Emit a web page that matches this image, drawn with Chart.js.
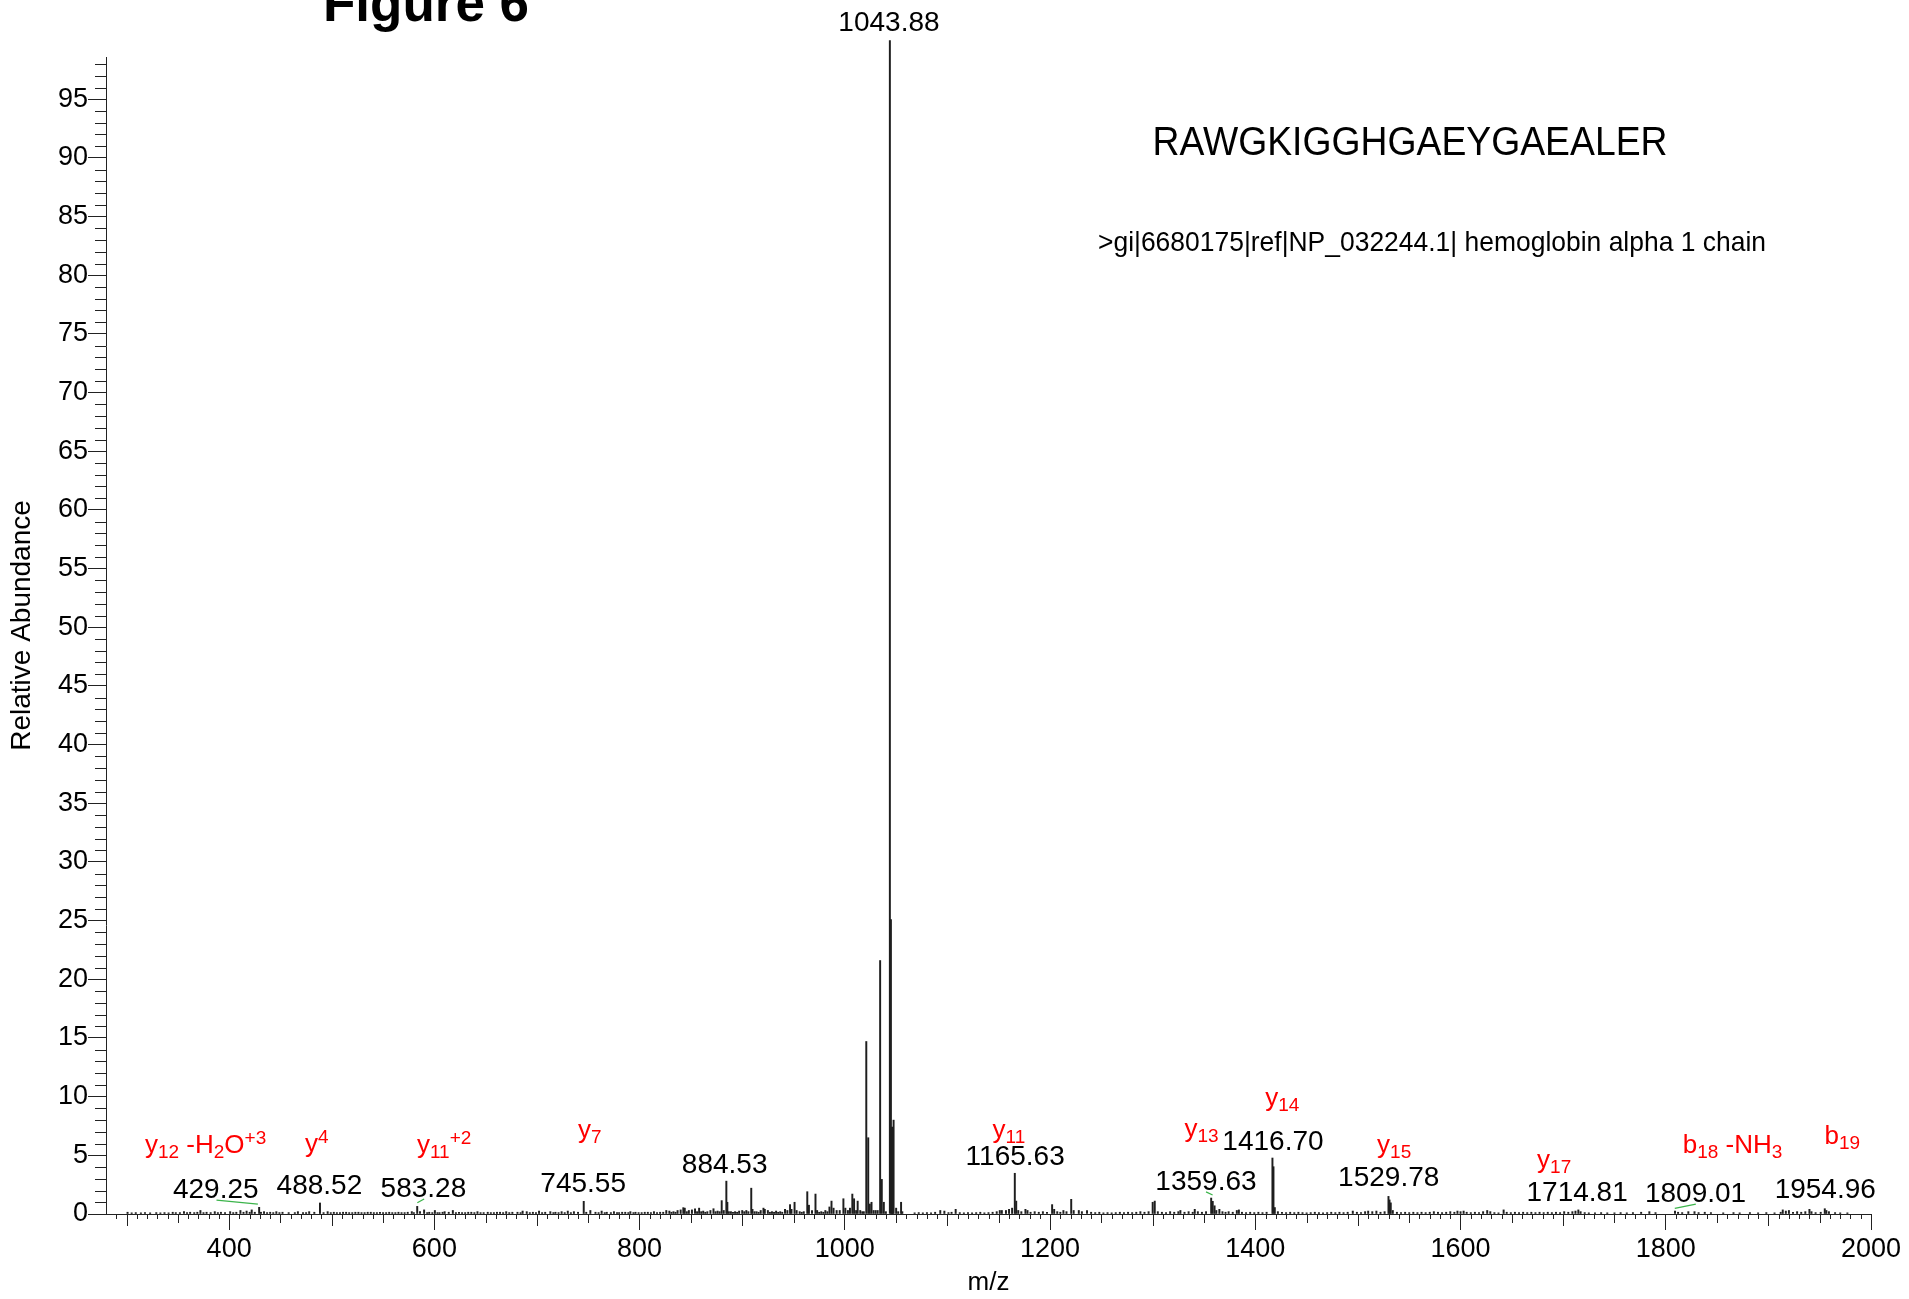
<!DOCTYPE html>
<html>
<head>
<meta charset="utf-8">
<script src="https://cdn.jsdelivr.net/npm/chart.js@4.4.1/dist/chart.umd.min.js"></script>
<style>
  html, body { margin: 0; padding: 0; background: #fff; }
  #wrap { width: 1909px; height: 1299px; position: relative; }
</style>
</head>
<body>
<div id="wrap"><canvas id="spectrum"></canvas></div>
<script>
// axis ticks
const xTickLabels = [400, 600, 800, 1000, 1200, 1400, 1600, 1800, 2000];
const yTickLabels = [0, 5, 10, 15, 20, 25, 30, 35, 40, 45, 50, 55, 60, 65, 70, 75, 80, 85, 90, 95];

// peaks as [m/z, relative abundance %]
const lowMassPeaks = [
  [301,0.15],[305,0.1],[309,0.12],[314,0.1],[318,0.12],[323,0.1],[329,0.12],[333,0.1],[337,0.12],[341,0.1],
  [345,0.15],[348,0.12],[352,0.12],[356,0.2],[359,0.12],[362,0.15],[366,0.12],[369,0.15],[372,0.3],[375,0.12],
  [378,0.15],[382,0.12],[386,0.2],[389,0.12],[392,0.15],[396,0.12],[401,0.2],[404,0.12],[407,0.15],[411,0.3],
  [414,0.15],[417,0.25],[420,0.15],[422,0.35],[425,0.15],[429.25,0.57],[431,0.15],[434,0.2],[437,0.12],[440,0.15],
  [443,0.12],[446,0.2],[449,0.12],[452,0.15],[458,0.12],[464,0.12],[467,0.2],[472,0.12],[475,0.12],[478,0.2],
  [483,0.15],[488.52,0.94],[492,0.12],[496,0.2],[499,0.12],[502,0.15],[505,0.12],[508,0.12],[511,0.15],[514,0.15],
  [517,0.12],[520,0.12],[523,0.15],[526,0.15],[529,0.12],[532,0.12],[535,0.15],[538,0.15],[541,0.12],[544,0.12],
  [547,0.15],[550,0.12],[553,0.12],[556,0.15],[559,0.12],[562,0.12],[565,0.15],[568,0.12],[571,0.12],[574,0.15],
  [578,0.2],[580,0.12],[583.28,0.65],[586,0.2],[590,0.35],[593,0.12],[595,0.15],[598,0.12],[600.5,0.3],[603,0.12],
  [605,0.12],[608,0.15],[610,0.2],[614,0.15],[618,0.3],[621,0.12],[624,0.15],[627,0.12],[630,0.12],[633,0.15],
  [636,0.15],[639,0.12],[642,0.2],[645,0.12],[648,0.12],[652,0.15],[655,0.12],[658,0.12],[661,0.15],[664,0.15],
  [667,0.12],[670,0.2],[673,0.12],[676,0.15],[681,0.15],[684,0.12],[686,0.25],[690,0.2],[693,0.12],[696,0.15],
  [699,0.12],[702,0.25],[705,0.12],[708,0.15],[713,0.2],[716,0.12],[718,0.15],[721,0.12],[724,0.2],[727,0.12],
  [730,0.25],[733,0.12],[736,0.2],[740,0.15],[745.55,1.08],[748,0.15],[752,0.3],[757,0.15],[760,0.12],[763,0.25],
  [766,0.12],[768,0.15],[772,0.12],[775,0.2],[778,0.12],[780,0.12],[783,0.15],[786,0.15],[789,0.12],[791,0.2],
  [794,0.12],[796,0.15],[799,0.12],[802,0.12],[805,0.15],[808,0.15],[811,0.12],[814,0.2],[817,0.12],[820,0.15],
  [823,0.15],[826,0.3],[829,0.25],[831,0.15],[833,0.2],[835,0.15],[837,0.3],[840,0.35],[842.6,0.54],[844,0.5],
  [846,0.2],[848,0.3],[851,0.35],[854,0.45],[856,0.2],[858,0.5]
];

const clusterPeaks = [
  [860,0.2],[862,0.25],[864,0.15],[866,0.2],[869,0.3],[872,0.45],[874,0.2],[876,0.25],[878,0.2],[880,1.14],
  [882,0.3],[884.53,2.8],[885.5,1.0],[887,0.2],[889,0.2],[891,0.15],[893,0.2],[895,0.15],[897,0.25],[900,0.3],
  [902,0.2],[904,0.3],[906,0.2],[908.8,2.2],[910,0.4],[912,0.2],[914,0.2],[916,0.15],[918,0.3],[920.7,0.5],
  [922,0.4],[925,0.3],[927,0.15],[929,0.2],[931,0.15],[933,0.25],[935,0.15],[937,0.2],[939,0.15],[941.7,0.4],
  [944,0.3],[946.6,0.8],[948,0.4],[951,1.0],[953,0.3],[956,0.2],[958,0.15],[960,0.2],[963.4,1.9],[965,0.75],
  [968,0.3],[971.4,1.7],[973,0.3],[975,0.15],[977,0.2],[979,0.15],[981,0.3],[983,0.2],[985,0.6],[987,1.1],
  [989,0.5],[992,0.3],[995,0.3],[998.6,1.3],[1000.5,0.5],[1003,0.3],[1005,0.5],[1007.3,1.7],[1009,1.3],[1011,0.3],
  [1012.5,1.1],[1015,0.3],[1017,0.2],[1018.5,0.2],[1020.9,14.7],[1022.8,6.5],[1024.3,0.85],[1026,1.0],[1028,0.3],[1030,0.3],
  [1032,0.3],[1034.4,21.6],[1036,2.95],[1038,1.0],[1040,0.2],[1043.88,100],[1044.9,25.1],[1045.9,7.4],[1046.5,7.4],[1047.5,8.0],
  [1050,0.5],[1052,0.2],[1054.8,1.0],[1056,0.2]
];

const highMassPeaks = [
  [1068,0.1],[1072,0.12],[1076,0.1],[1080,0.12],[1084,0.1],[1088,0.15],[1093,0.3],[1097,0.25],[1101,0.12],[1104,0.15],
  [1108,0.4],[1112,0.12],[1116,0.1],[1120,0.12],[1124,0.1],[1128,0.12],[1132,0.15],[1136,0.1],[1140,0.12],[1144,0.15],
  [1148,0.2],[1151,0.3],[1153,0.3],[1157,0.3],[1160,0.4],[1163,0.5],[1165.63,3.47],[1167,1.1],[1169,0.3],[1172,0.2],
  [1176,0.4],[1178,0.3],[1181,0.15],[1185,0.2],[1189,0.15],[1193,0.2],[1197,0.15],[1202,0.8],[1204,0.4],[1207,0.2],
  [1210,0.15],[1213,0.3],[1216,0.2],[1220.6,1.25],[1223,0.3],[1228,0.3],[1231,0.2],[1236,0.3],[1240,0.15],[1244,0.12],
  [1248,0.15],[1252,0.1],[1256,0.12],[1260,0.1],[1264,0.12],[1268,0.15],[1272,0.12],[1276,0.15],[1280,0.12],[1284,0.15],
  [1288,0.2],[1292,0.15],[1296,0.2],[1300,1.0],[1302,1.1],[1305,0.2],[1309,0.15],[1313,0.12],[1317,0.2],[1321,0.15],
  [1325,0.2],[1327,0.3],[1331,0.15],[1335,0.2],[1339,0.15],[1341,0.4],[1344,0.2],[1348,0.15],[1352,0.2],[1357,1.36],
  [1358.5,1.08],[1360.3,0.7],[1362,0.3],[1365,0.4],[1368,0.2],[1371,0.15],[1374,0.2],[1378,0.15],[1382,0.3],[1384,0.35],
  [1387,0.15],[1391,0.12],[1395,0.15],[1399,0.12],[1403,0.15],[1407,0.12],[1411,0.15],[1416.7,4.77],[1417.7,4.03],[1419,0.55],
  [1422,0.2],[1426,0.15],[1430,0.12],[1434,0.15],[1438,0.12],[1442,0.15],[1446,0.12],[1450,0.1],[1454,0.12],[1458,0.15],
  [1462,0.12],[1466,0.1],[1470,0.12],[1474,0.15],[1478,0.12],[1482,0.15],[1486,0.12],[1490,0.15],[1495,0.25],[1499,0.15],
  [1503,0.12],[1507,0.2],[1510,0.25],[1514,0.2],[1518,0.25],[1522,0.15],[1526,0.2],[1529.78,1.5],[1530.8,1.2],[1532,0.95],
  [1534,0.3],[1538,0.15],[1542,0.12],[1546,0.15],[1550,0.12],[1554,0.15],[1558,0.12],[1562,0.15],[1566,0.12],[1570,0.15],
  [1574,0.2],[1578,0.15],[1582,0.12],[1586,0.15],[1590,0.2],[1594,0.15],[1597,0.25],[1600,0.2],[1603,0.25],[1606,0.15],
  [1610,0.12],[1614,0.15],[1618,0.12],[1622,0.2],[1626,0.3],[1629,0.2],[1633,0.12],[1637,0.1],[1642,0.35],[1645,0.15],
  [1649,0.12],[1653,0.15],[1657,0.12],[1661,0.15],[1665,0.12],[1669,0.15],[1673,0.12],[1677,0.15],[1681,0.12],[1685,0.15],
  [1689,0.12],[1693,0.15],[1697,0.12],[1701,0.2],[1705,0.15],[1709,0.2],[1712,0.25],[1714.81,0.35],[1717,0.2],[1721,0.12],
  [1725,0.1],[1731,0.1],[1737,0.12],[1743,0.1],[1750,0.1],[1756,0.12],[1762,0.1],[1768,0.12],[1776,0.15],[1784,0.2],
  [1790,0.12],[1809,0.25],[1812,0.15],[1816,0.12],[1822,0.2],[1828,0.2],[1832,0.12],[1838,0.15],[1844,0.12],[1856,0.1],
  [1866,0.12],[1872,0.1],[1882,0.12],[1890,0.1],[1898,0.12],[1906,0.1],[1912,0.15],[1914,0.35],[1917,0.25],[1920,0.3],
  [1924,0.15],[1928,0.2],[1932,0.15],[1936,0.2],[1940,0.4],[1942,0.2],[1946,0.12],[1951,0.15],[1954.96,0.45],[1956.5,0.3],
  [1959,0.2],[1965,0.12],[1970,0.1],[1977,0.1]
];

// labelled m/z values
const peakLabels = ["429.25", "488.52", "583.28", "745.55", "884.53", "1043.88", "1165.63", "1359.63", "1416.70", "1529.78", "1714.81", "1809.01", "1954.96"];

// fragment ion names: [text, "n" normal | "b" subscript | "p" superscript]
const ionLabels = [
  [["y","n"],["12","b"],[" -H","n"],["2","b"],["O","n"],["+3","p"]],
  [["y","n"],["4","p"]],
  [["y","n"],["11","b"],["+2","p"]],
  [["y","n"],["7","b"]],
  [["y","n"],["11","b"]],
  [["y","n"],["13","b"]],
  [["y","n"],["14","b"]],
  [["y","n"],["15","b"]],
  [["y","n"],["17","b"]],
  [["b","n"],["18","b"],[" -NH","n"],["3","b"]],
  [["b","n"],["19","b"]]
];

const FONT = '"Liberation Sans", Arial, sans-serif';
Chart.defaults.font.family = FONT;
Chart.defaults.color = "#000";

// where the labels sit, in axis units (x = m/z, y = abundance at text baseline)
const peakLabelAt = [
  [387, 1.35], [488, 1.7], [589.3, 1.48], [745, 1.9], [882.9, 3.5], [1043, 100.85], [1166, 4.18],
  [1351.9, 2.05], [1417.2, 5.45], [1530, 2.39], [1713.6, 1.1], [1829, 1.0], [1955.4, 1.34]
];
const ionLabelAt = [
  [318, 5.2], [474, 5.3], [583, 5.2], [740, 6.5], [1144, 6.5], [1331, 6.6],
  [1409.6, 9.2], [1518.7, 5.2], [1674.6, 3.9], [1816.5, 5.2], [1954.7, 6.0]
];
const leaderLines = [
  [[387.7, 1.19], [428, 0.85]],
  [[583.4, 0.96], [590, 1.28]],
  [[1352, 1.88], [1358.4, 1.62]],
  [[1808.8, 0.48], [1829.3, 0.85]]
];

const allPeaks = lowMassPeaks.concat(clusterPeaks, highMassPeaks);

const minorTicks = {
  id: "minorTicks",
  afterDraw(chart) {
    const { ctx, chartArea: a, scales: { x, y } } = chart;
    ctx.save();
    ctx.strokeStyle = "#222";
    ctx.lineWidth = 1;
    ctx.beginPath();
    for (let v = 290; v < 2000; v += 10) {
      if (v % 200 === 0) continue;
      const len = v % 100 === 0 ? 12 : v % 50 === 0 ? 9 : 5;
      const px = Math.round(x.getPixelForValue(v)) + 0.5;
      ctx.moveTo(px, a.bottom);
      ctx.lineTo(px, a.bottom + len);
    }
    for (let v = 1; v <= 98; v++) {
      if (v % 5 === 0) continue;
      const py = Math.round(y.getPixelForValue(v)) + 0.5;
      ctx.moveTo(a.left - 11, py);
      ctx.lineTo(a.left, py);
    }
    ctx.stroke();
    ctx.restore();
  }
};

function drawRich(ctx, parts, x, y) {
  let cx = x;
  parts.forEach(([t, k]) => {
    const size = k === "n" ? 26 : 19;
    const dy = k === "b" ? 5 : k === "p" ? -9 : 0;
    ctx.font = size + "px " + FONT;
    ctx.fillText(t, cx, y + dy);
    cx += ctx.measureText(t).width;
  });
}

const notes = {
  id: "notes",
  afterDraw(chart) {
    const { ctx, chartArea: a, scales: { x, y } } = chart;
    ctx.save();

    // header texts
    ctx.fillStyle = "#000";
    ctx.textAlign = "center";
    ctx.textBaseline = "alphabetic";
    ctx.font = "bold 53px " + FONT;
    ctx.fillText("Figure 6", 426, 21);
    ctx.font = "40px " + FONT;
    ctx.fillText("RAWGKIGGHGAEYGAEALER", 1410, 155, 515);
    ctx.font = "28px " + FONT;
    ctx.fillText(">gi|6680175|ref|NP_032244.1| hemoglobin alpha 1 chain", 1432, 251, 668);

    // y axis title
    ctx.save();
    ctx.translate(22, (a.top + a.bottom) / 2 - 10);
    ctx.rotate(-Math.PI / 2);
    ctx.textBaseline = "middle";
    ctx.font = "28px " + FONT;
    ctx.fillText("Relative Abundance", 0, 0);
    ctx.restore();

    // green leader lines
    ctx.strokeStyle = "#3cb44b";
    ctx.lineWidth = 1.3;
    leaderLines.forEach(([p, q]) => {
      ctx.beginPath();
      ctx.moveTo(x.getPixelForValue(p[0]), y.getPixelForValue(p[1]));
      ctx.lineTo(x.getPixelForValue(q[0]), y.getPixelForValue(q[1]));
      ctx.stroke();
    });

    // m/z labels
    ctx.font = "28px " + FONT;
    peakLabels.forEach((t, i) => {
      const [mx, my] = peakLabelAt[i];
      ctx.fillText(t, x.getPixelForValue(mx), y.getPixelForValue(my));
    });

    // ion names
    ctx.fillStyle = "#ff0000";
    ctx.textAlign = "left";
    ionLabels.forEach((parts, i) => {
      const [mx, my] = ionLabelAt[i];
      drawRich(ctx, parts, x.getPixelForValue(mx), y.getPixelForValue(my));
    });
    ctx.restore();
  }
};

new Chart(document.getElementById("spectrum"), {
  type: "bar",
  data: {
    datasets: [{
      data: allPeaks.map(([mz, ab]) => ({ x: mz, y: ab })),
      backgroundColor: "#1e1e1e",
      borderWidth: 0,
      barThickness: 1.3,
      clip: false
    }]
  },
  options: {
    responsive: true,
    maintainAspectRatio: false,
    animation: false,
    layout: { padding: { top: 57, right: 38, left: 0, bottom: 0 } },
    plugins: {
      legend: { display: false },
      tooltip: { enabled: false }
    },
    scales: {
      x: {
        type: "linear",
        min: 280,
        max: 2000,
        offset: false,
        grid: { drawOnChartArea: false, offset: false, tickLength: 16, tickColor: "#222", tickWidth: 1 },
        border: { color: "#222", width: 1 },
        ticks: { font: { size: 27 }, color: "#000", padding: 3, maxRotation: 0, autoSkip: false, callback: v => String(v) },
        afterBuildTicks: s => { s.ticks = xTickLabels.map(v => ({ value: v })); },
        afterFit: s => { s.height = 85; },
        title: { display: true, text: "m/z", font: { size: 26 }, color: "#000", padding: { top: 0, bottom: 1 } }
      },
      y: {
        min: 0,
        max: 98.6,
        grid: { drawOnChartArea: false, tickLength: 18, tickColor: "#222", tickWidth: 1 },
        border: { color: "#222", width: 1 },
        ticks: { font: { size: 27 }, color: "#000", padding: 0, autoSkip: false, callback: v => String(v) },
        afterBuildTicks: s => { s.ticks = yTickLabels.map(v => ({ value: v })); },
        afterFit: s => { s.width = 106; }
      }
    }
  },
  plugins: [minorTicks, notes]
});
</script>
</body>
</html>
